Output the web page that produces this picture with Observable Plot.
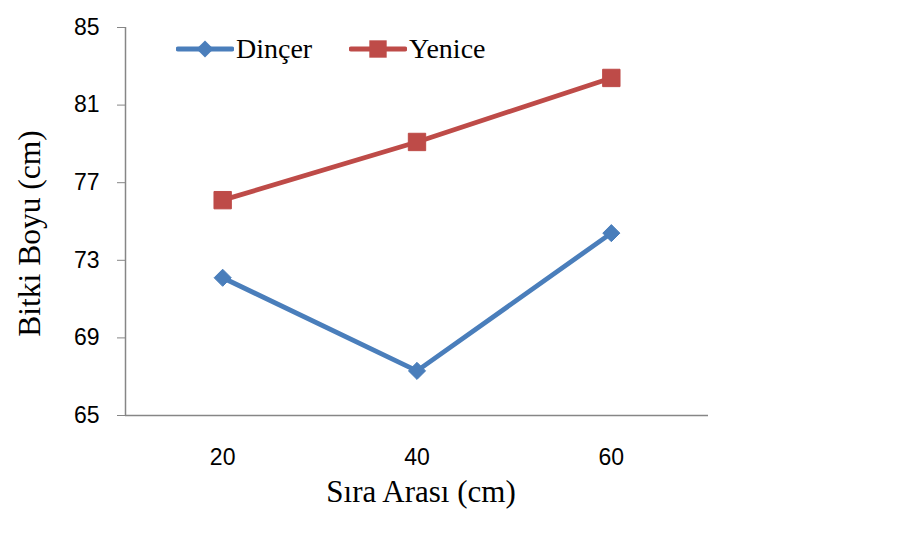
<!DOCTYPE html>
<html>
<head>
<meta charset="utf-8">
<script src="https://cdn.jsdelivr.net/npm/d3@7"></script>
<script src="https://cdn.jsdelivr.net/npm/@observablehq/plot@0.6"></script>
<style>
  html, body { margin: 0; padding: 0; background: #fff; }
  #wrap { position: relative; width: 902px; height: 538px; }
  #legend { position: absolute; left: 0; top: 0; font-family: "Liberation Serif", "Times New Roman", serif; font-size: 28px; color: #000; }
  .item { position: absolute; display: flex; align-items: center; white-space: nowrap; }
  .item svg { display: block; }
</style>
</head>
<body>
<div id="wrap"><div id="legend"></div></div>
<script>
const categories = [20, 40, 60];
const seriesNames = ["Dinçer", "Yenice"];
const dincer = [72.1, 67.3, 74.4];
const yenice = [76.1, 79.1, 82.4];
const yTicks = [65, 69, 73, 77, 81, 85];
const colors = ["#4A7EBB", "#BE4B48"];
const symbols = ["diamond2", "square"];
const xTitle = "Sıra Arası (cm)";
const yTitle = "Bitki Boyu (cm)";

const data = [];
categories.forEach((c, i) => {
  data.push({x: c, y: dincer[i], s: seriesNames[0]});
  data.push({x: c, y: yenice[i], s: seriesNames[1]});
});

const sans = "'Liberation Sans', Arial, sans-serif";
const serif = "'Liberation Serif', 'Times New Roman', serif";

const chart = Plot.plot({
  width: 902,
  height: 538,
  marginLeft: 125,
  marginRight: 194,
  marginTop: 27,
  marginBottom: 123,
  style: {fontFamily: sans, color: "#000", background: "transparent", overflow: "visible"},
  x: {domain: [10, 70], axis: null},
  y: {domain: [65, 85], axis: null},
  color: {domain: seriesNames, range: colors},
  symbol: {domain: seriesNames, range: symbols},
  marks: [
    Plot.ruleX([10], {stroke: "#868686", strokeWidth: 1.5}),
    Plot.ruleY([65], {stroke: "#868686", strokeWidth: 1.5}),
    Plot.axisY({ticks: yTicks, tickSize: 8, tickPadding: 18, stroke: "#868686", fill: "#000", fontSize: 23, label: null, tickFormat: d => String(d)}),
    Plot.axisX({ticks: categories, tickSize: 0, tickPadding: 33, fill: "#000", fontSize: 23, label: null, tickFormat: d => String(d)}),
    Plot.line(data, {x: "x", y: "y", z: "s", stroke: "s", strokeWidth: 4.8}),
    Plot.dot(data.filter(d => d.s === seriesNames[0]), {x: "x", y: "y", symbol: "s", fill: "s", stroke: "s", strokeWidth: 1, r: 7.7}),
    Plot.dot(data.filter(d => d.s === seriesNames[1]), {x: "x", y: "y", symbol: "s", fill: "s", stroke: "s", strokeWidth: 1, r: 9.8}),
    Plot.text([xTitle], {frameAnchor: "bottom", lineAnchor: "middle", dy: 77, dx: 4, fontSize: 31, fontFamily: serif, fill: "#000"}),
    Plot.text([yTitle], {frameAnchor: "left", rotate: -90, lineAnchor: "middle", textAnchor: "middle", dx: -96, dy: 12, fontSize: 31.5, fontFamily: serif, fill: "#000"})
  ]
});
document.getElementById("wrap").prepend(chart);
chart.style.position = "absolute";
chart.style.left = "0";
chart.style.top = "0";

// legend
const legend = document.getElementById("legend");
const legendPos = [{left: 176, top: 49}, {left: 349, top: 49}];
seriesNames.forEach((name, i) => {
  const item = document.createElement("div");
  item.className = "item";
  item.style.left = legendPos[i].left + "px";
  item.style.top = (legendPos[i].top - 18) + "px";
  item.style.height = "36px";
  const ns = "http://www.w3.org/2000/svg";
  const svg = document.createElementNS(ns, "svg");
  svg.setAttribute("width", 58);
  svg.setAttribute("height", 36);
  const line = document.createElementNS(ns, "line");
  line.setAttribute("x1", 2); line.setAttribute("x2", 56);
  line.setAttribute("y1", 18); line.setAttribute("y2", 18);
  line.setAttribute("stroke", colors[i]); line.setAttribute("stroke-width", 4.8);
  line.setAttribute("stroke-linecap", "round");
  svg.appendChild(line);
  const sym = document.createElementNS(ns, "path");
  const sz = i === 0 ? Math.PI * 7.7 * 7.7 : Math.PI * 9.8 * 9.8;
  const st = i === 0 ? d3.symbolDiamond2 : d3.symbolSquare;
  sym.setAttribute("d", d3.symbol(st, sz)());
  sym.setAttribute("transform", "translate(29,18)");
  sym.setAttribute("fill", colors[i]);
  svg.appendChild(sym);
  item.appendChild(svg);
  const t = document.createElement("span");
  t.textContent = name;
  t.style.marginLeft = "2px";
  item.appendChild(t);
  legend.appendChild(item);
});
</script>
</body>
</html>
